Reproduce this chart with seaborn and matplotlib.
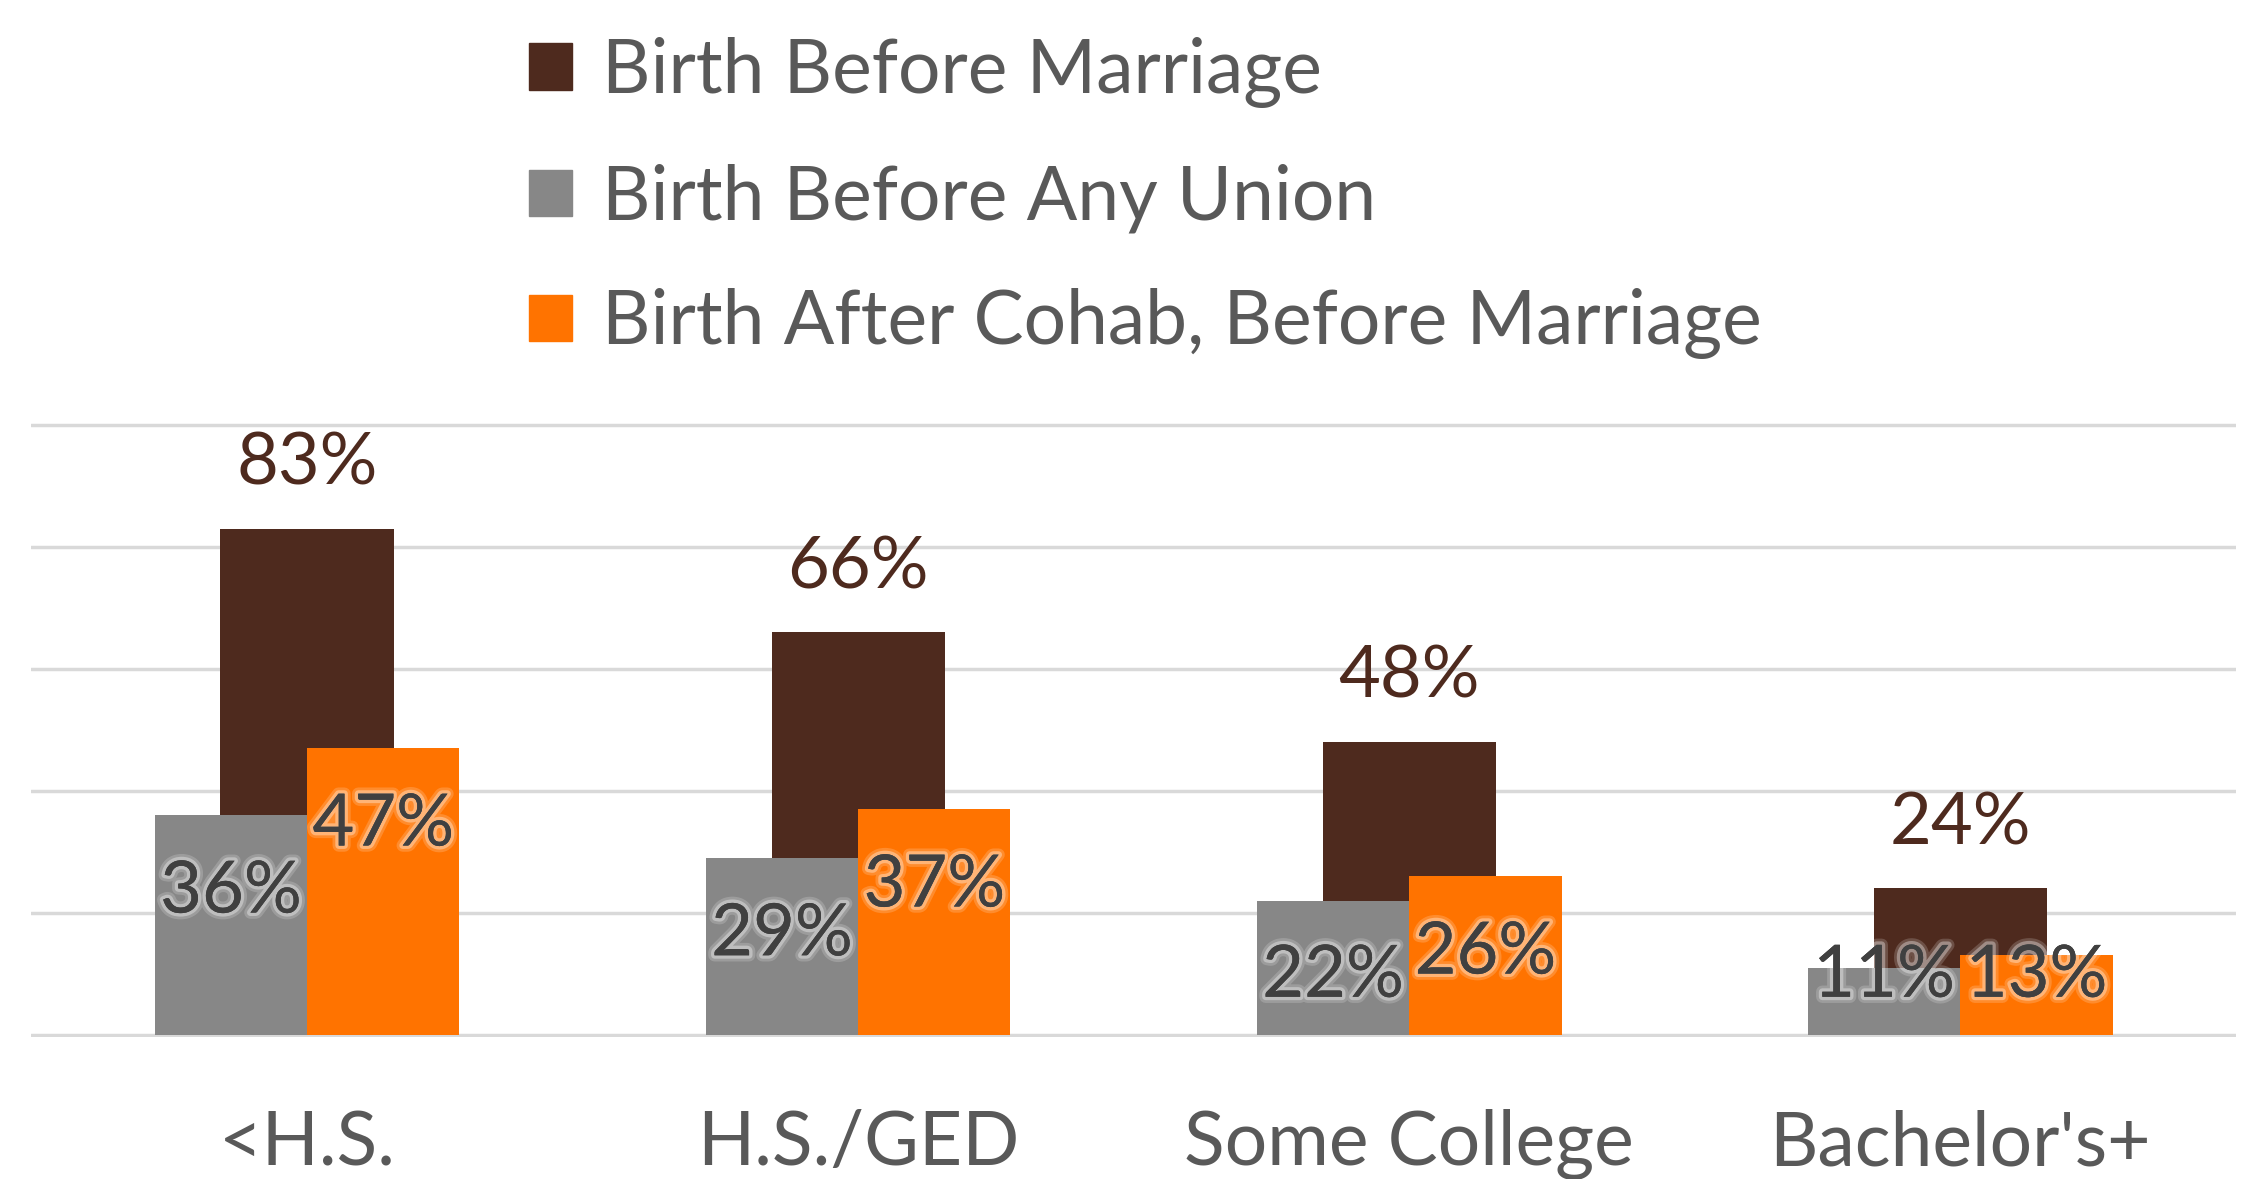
import matplotlib
matplotlib.use("Agg")
import matplotlib.pyplot as plt
import matplotlib.patheffects as pe
from matplotlib.patches import Patch
import seaborn as sns
import pandas as pd

categories = ["<H.S.", "H.S./GED", "Some College", "Bachelor's+"]
before_marriage = [83, 66, 48, 24]
before_any_union = [36, 29, 22, 11]
after_cohab = [47, 37, 26, 13]
series_names = ["Birth Before Marriage", "Birth Before Any Union",
                "Birth After Cohab, Before Marriage"]

BROWN = "#4e2a1e"
GRAY = "#878787"
ORANGE = "#ff7300"
TEXT = "#595959"
LABEL = "#404040"

sns.set_theme(style="white")
plt.rcParams['font.family'] = ['Lato', 'DejaVu Sans']

fig = plt.figure(figsize=(22.47, 11.79), dpi=100)
ax = fig.add_axes([0.014, 0.1203, 0.981, 0.5213])

df_b = pd.DataFrame({"cat": categories, "val": before_marriage})
sns.barplot(data=df_b, x="cat", y="val", color=BROWN, width=0.314, ax=ax,
            saturation=1, order=categories, errorbar=None, linewidth=0)

df_go = pd.DataFrame({
    "cat": categories * 2,
    "val": before_any_union + after_cohab,
    "series": [series_names[1]] * 4 + [series_names[2]] * 4,
})
sns.barplot(data=df_go, x="cat", y="val", hue="series", palette=[GRAY, ORANGE],
            width=0.553, ax=ax, saturation=1, order=categories,
            hue_order=series_names[1:], legend=False, errorbar=None, linewidth=0)

FS_LBL = 52
FS_AX = 54
# labels
for rect in ax.containers[0]:
    h = rect.get_height()
    ax.text(rect.get_x() + rect.get_width() / 2, h + 10.6, f"{h:.0f}%",
            ha="center", va="center", fontsize=FS_LBL, color=BROWN)
glow = [pe.withStroke(linewidth=9, foreground="white", alpha=0.18),
        pe.withStroke(linewidth=5, foreground="white", alpha=0.35),
        pe.Normal()]
for cont in ax.containers[1:3]:
    for rect in cont:
        h = rect.get_height()
        y = max(h - 12.6, 9.6)
        ax.text(rect.get_x() + rect.get_width() / 2, y, f"{h:.0f}%",
                ha="center", va="center", fontsize=FS_LBL, color=LABEL,
                path_effects=glow, zorder=5)

ax.set_xlim(-0.5, 3.5)
ax.set_ylim(-0.4, 100.4)
ax.set_yticks([0, 20, 40, 60, 80, 100])
ax.set_yticklabels([])
ax.set_axisbelow(True)
ax.yaxis.grid(True, color="#d9d9d9", linewidth=2.5)
ax.xaxis.grid(False)
for s in ax.spines.values():
    s.set_visible(False)
ax.set_xlabel("")
ax.set_ylabel("")
ax.tick_params(axis="x", length=0, pad=52, labelsize=FS_AX, labelcolor=TEXT)
ax.tick_params(axis="y", length=0)

handles = [Patch(color=c) for c in [BROWN, GRAY, ORANGE]]
leg = ax.legend(handles, series_names, loc="upper left",
                bbox_to_anchor=(0.232, 0.975), bbox_transform=fig.transFigure,
                frameon=False, fontsize=FS_AX, handlelength=0.58, handleheight=0.58,
                handletextpad=0.4, labelspacing=0.74, borderaxespad=0, borderpad=0.1)
for t in leg.get_texts():
    t.set_color(TEXT)

fig.savefig("out.png", dpi=100)
